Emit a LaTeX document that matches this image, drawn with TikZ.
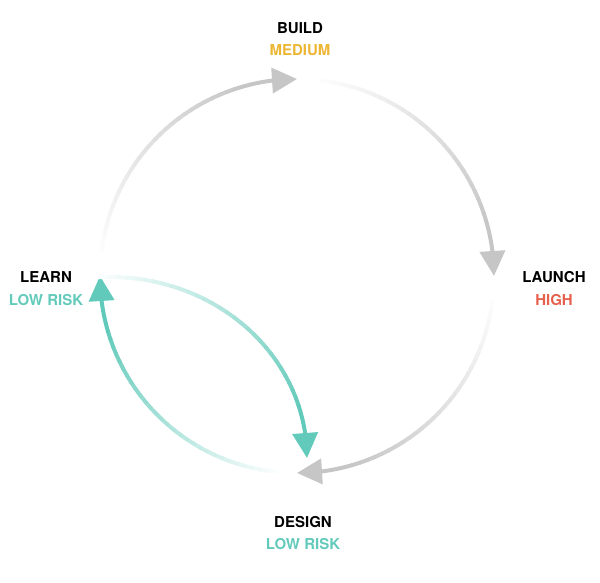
\documentclass[tikz,border=0pt]{standalone}
\usepackage{fontspec}
\setmainfont{TeX Gyre Heros}
\usepackage{tikz}
\usetikzlibrary{arrows.meta,bending}

\definecolor{cyclegray}{RGB}{198,198,198}
\definecolor{riskteal}{RGB}{98,202,186}
\definecolor{riskyellow}{RGB}{236,182,50}
\definecolor{riskred}{RGB}{230,96,78}

\begin{document}
\begin{tikzpicture}[x=1pt, y=1pt,
		stage/.style={font=\fontsize{15}{18}\selectfont\bfseries, inner sep=0pt},
		risk/.style={stage},
		loop/.style={line width=4pt, line cap=round},
		tip/.style={-{Triangle[length=25pt, width=25pt]}}]
	\useasboundingbox (0,0) rectangle (600,583);
	\coordinate (c) at (297,307);
	\coordinate (e) at (110,125);

	\node[stage] (build) at (300,555) {BUILD};
	\node[risk, text=riskyellow] (buildrisk) at (300,533) {MEDIUM};
	\node[stage] (launch) at (554,306) {LAUNCH};
	\node[risk, text=riskred] (launchrisk) at (554,283) {HIGH};
	\node[stage] (design) at (303,61) {DESIGN};
	\node[risk, text=riskteal] (designrisk) at (303,39) {LOW RISK};
	\node[stage] (learn) at (46,306) {LEARN};
	\node[risk, text=riskteal] (learnrisk) at (46,283) {LOW RISK};

	\foreach \fromang/\toang/\col in {173/104/cyclegray, 83/14/cyclegray, -7/-76/cyclegray, 264/194/riskteal}{
		\foreach \k in {0,...,29}{
			\pgfmathsetmacro\a{\fromang+(\toang-\fromang)*\k/30}
			\pgfmathsetmacro\b{\fromang+(\toang-\fromang)*(\k+1)/30}
			\pgfmathsetmacro\p{100*(\k+1)/30}
			\draw[loop, \col!\p!white] (c) ++(\a:197pt) arc[start angle=\a, end angle=\b, radius=197pt];
		}
		\draw[loop, tip, \col] (c) ++(\toang:197pt) arc[start angle=\toang, end angle=\toang-14, radius=197pt];
	}

	\foreach \k in {0,...,29}{
		\pgfmathsetmacro\a{93-(93-14)*\k/30}
		\pgfmathsetmacro\b{93-(93-14)*(\k+1)/30}
		\pgfmathsetmacro\p{100*(\k+1)/30}
		\draw[loop, riskteal!\p!white] (e) ++(\a:197pt and 181pt) arc[start angle=\a, end angle=\b, x radius=197pt, y radius=181pt];
	}
	\draw[loop, tip, riskteal] (e) ++(14:197pt and 181pt) arc[start angle=14, end angle=0, x radius=197pt, y radius=181pt];

\end{tikzpicture}
\end{document}
